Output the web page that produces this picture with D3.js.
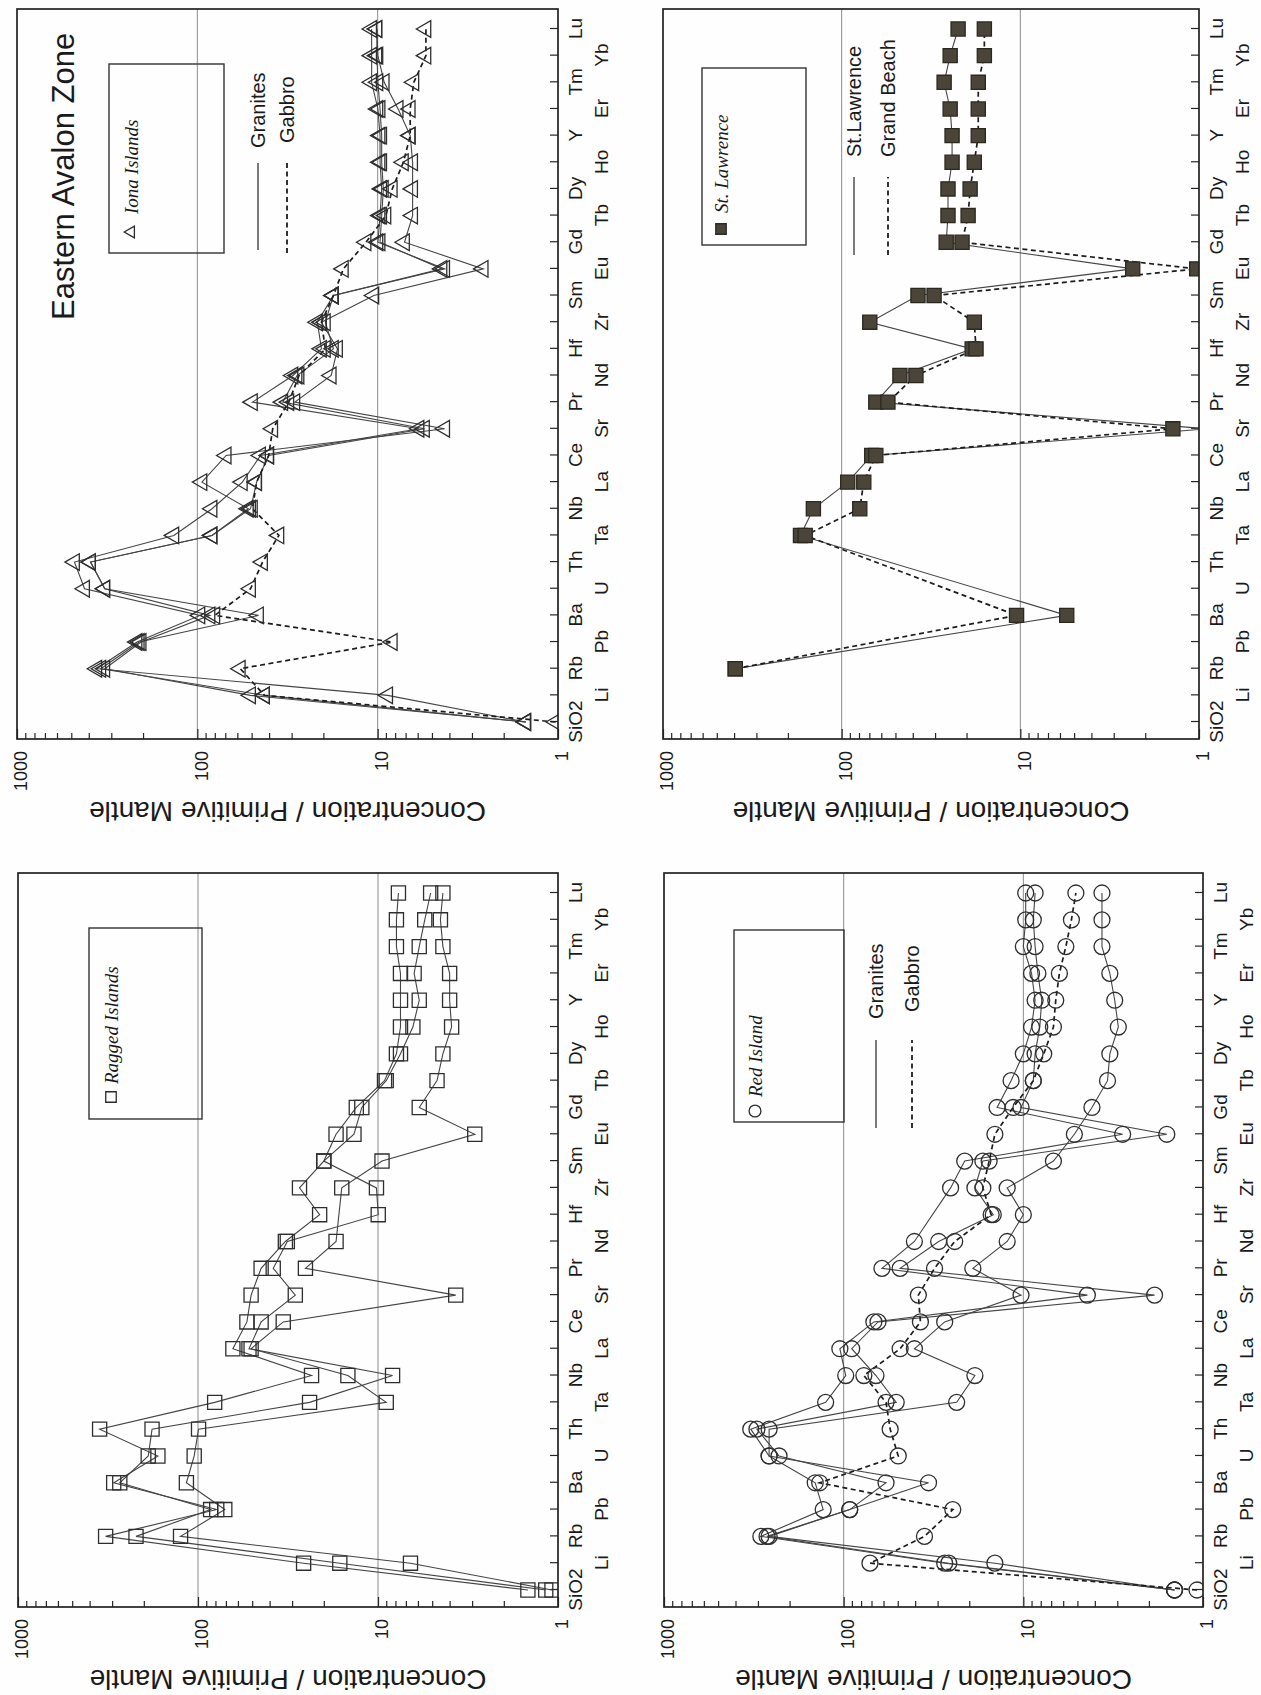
<!DOCTYPE html>
<html><head><meta charset="utf-8">
<script src="https://cdn.jsdelivr.net/npm/d3@7"></script>
<style>
html,body{margin:0;padding:0;background:#fff;}
svg{display:block;background:#fefefe;}
</style></head><body>
<svg id="chart" width="1261" height="1695"></svg>
<script>
// ---------- data ----------
const elements = ["SiO2","Li","Rb","Pb","Ba","U","Th","Ta","Nb","La","Ce","Sr","Pr","Nd","Hf","Zr","Sm","Eu","Gd","Tb","Dy","Ho","Y","Er","Tm","Yb","Lu"];
const valueTicks = [1, 10, 100, 1000];
const gridValues = [10, 100];

// Iona Islands (Eastern Avalon Zone)
const ionaGranite1 = [1.51, 8.8, 361, 216, 96.8, 422, 480, 135, 82.9, 56.3, 44.6, 5.9, 49.5, 29.5, 20.5, 21.6, 17.6, 4.25, 9.97, 9.7, 9.5, 9.7, 9.7, 9.97, 10.8, 10.8, 10.8];
const ionaGranite2 = [1.51, 50.7, 326, 205, 85.1, 326, 391, 82.9, 52.1, 94.3, 69.2, 4.25, 28.8, 18.1, 16.7, 20.5, 10.5, 2.6, 7.1, 6.4, 6.4, 6.4, 6.6, 7.7, 9.2, 9.97, 10.1];
const ionaGranite3 = [1.51, 42.4, 343, 210, 45.8, 326, 391, 82.9, 50.7, 46.9, 40.2, 5.5, 33.6, 28.0, 17.6, 19.5, 17.6, 4.4, 9.7, 9.5, 9.3, 9.5, 9.5, 9.7, 9.97, 10.1, 10.1];
const ionaGabbro   = [1.03, 42.4, 57.8, 8.3, 80, 50.7, 43.5, 35.3, 49.5, 46.9, 40.2, 38.2, 31.1, 27.3, 19.5, 20.5, 17.6, 15.5, 11.6, 9.0, 8.3, 7.2, 6.6, 6.6, 6.3, 5.4, 5.4];

// St. Lawrence
const stLawrence = [null, null, 394, null, 5.5, null, null, 170, 144, 92.5, 67.9, 0.9, 64.4, 47.2, 18.6, 69.6, 37.4, 2.35, 26.0, 25.4, 25.4, 24.1, 24.1, 24.7, 26.7, 24.7, 22.3];
const grandBeach = [null, null, 394, null, 10.5, null, null, 160, 79.2, 75.2, 64.4, 1.4, 55.1, 38.4, 17.7, 18.1, 30.4, 1.03, 21.2, 19.6, 19.1, 18.1, 17.2, 17.2, 17.2, 15.9, 15.9];

// Ragged Islands
const raggedA = [1.47, 25.9, 326, 78.7, 294, 167, 352, 80.8, 23.4, 64.0, 53.5, 50.7, 44.6, 32.7, 21.1, 27.3, 20.0, 17.1, 13.2, 9.2, 7.9, 7.5, 7.5, 7.5, 7.9, 7.9, 7.7];
const raggedB = [1.17, 16.3, 221, 85.1, 272, 189, 180, 24.0, 8.3, 52.1, 44.6, 28.8, 38.2, 31.9, 9.97, 10.2, 20.0, 13.6, 12.3, 9.0, 7.5, 6.4, 5.9, 6.3, 5.9, 5.5, 5.1];
const raggedC = [1.08, 6.6, 125, 71.0, 116, 105, 99.3, 9.0, 14.7, 50.7, 33.6, 3.7, 25.3, 17.1, null, 15.9, 9.5, 2.9, 5.9, 4.7, 4.36, 3.9, 4.0, 4.0, 4.36, 4.5, 4.36];

// Red Island
const redGranite1 = [1.44, 27.4, 289, 130, 144, 260, 329, 126, 97.4, 105, 67.9, 4.4, 61.2, 40.4, null, 25.4, 21.2, 2.8, 14.0, 11.7, 10.0, 9.0, 8.6, 9.0, 10.0, 9.7, 9.7];
const redGranite2 = [1.44, 26.0, 267, 92.5, 58.1, 229, 304, 51.0, 66.1, 90.2, 64.4, 1.86, 48.5, 29.6, 14.7, 18.6, 16.8, 1.59, 10.3, 8.8, 8.6, 8.1, 7.9, 8.3, 8.6, 8.8, 8.6];
const redGranite3 = [1.44, 14.4, 260, 92.5, 33.7, 260, 260, 23.5, 18.6, 40.4, 27.4, 10.3, 19.1, 12.3, 10.0, 12.3, 6.8, 5.2, 4.15, 3.4, 3.3, 2.96, 3.1, 3.3, 3.65, 3.65, 3.65];
const redGabbro   = [1.08, 71.4, 35.5, 24.7, 136, 49.7, 55.1, 58.1, 77.2, 48.5, 37.4, 38.4, 31.2, 24.1, 15.1, 16.8, 15.5, 14.4, 11.4, 8.8, 7.7, 6.8, 6.6, 6.3, 5.8, 5.4, 5.1];

const axisTitle = "Concentration / Primitive Mantle";

// ---------- drawing ----------
const SANS = "'Liberation Sans', Arial, Helvetica, sans-serif";
const SERIF = "'Liberation Serif', 'Times New Roman', serif";
const INK = "#262626";

const svg = d3.select("#chart");
// The page is printed sideways: draw the upright figure, then turn it 90° counter-clockwise.
const root = svg.append("g").attr("transform", "translate(0,1695) rotate(-90)");

const symbolOf = {
  triangle: d3.symbolTriangle,
  square: d3.symbolSquare,
  circle: d3.symbolCircle
};

const panels = [
  { id: "iona", u0: 956, u1: 1686, v0: 17, v1: 558, marker: "triangle", filled: false, msize: 120,
    series: [
      { values: ionaGranite1, dashed: false },
      { values: ionaGranite2, dashed: false },
      { values: ionaGranite3, dashed: false },
      { values: ionaGabbro, dashed: true }
    ],
    title: "Eastern Avalon Zone",
    box: { v0: 109, v1: 224, u0: 1442, u1: 1631, label: "Iona Islands", mu: 1463, mv: 131, tu: 1481 },
    lines: [
      { label: "Granites", dashed: false, v: 258, la: 1445, lb: 1532, tu: 1547 },
      { label: "Gabbro", dashed: true, v: 287, la: 1442, lb: 1535, tu: 1552 }
    ]
  },
  { id: "stl", u0: 956, u1: 1686, v0: 663, v1: 1199, marker: "square", filled: true, msize: 200,
    series: [
      { values: stLawrence, dashed: false },
      { values: grandBeach, dashed: true }
    ],
    box: { v0: 702, v1: 806, u0: 1450, u1: 1627, label: "St. Lawrence", mu: 1466, mv: 721, tu: 1482 },
    lines: [
      { label: "St.Lawrence", dashed: false, v: 854, la: 1440, lb: 1518, tu: 1538 },
      { label: "Grand Beach", dashed: true, v: 888, la: 1440, lb: 1518, tu: 1538 }
    ]
  },
  { id: "ragged", u0: 88, u1: 822, v0: 18, v1: 558, marker: "square", filled: false, msize: 200,
    series: [
      { values: raggedA, dashed: false },
      { values: raggedB, dashed: false },
      { values: raggedC, dashed: false }
    ],
    box: { v0: 89, v1: 202, u0: 576, u1: 767, label: "Ragged Islands", mu: 598, mv: 111, tu: 611 },
    lines: []
  },
  { id: "red", u0: 88, u1: 822, v0: 664, v1: 1203, marker: "circle", filled: false, msize: 200,
    series: [
      { values: redGranite1, dashed: false },
      { values: redGranite2, dashed: false },
      { values: redGranite3, dashed: false },
      { values: redGabbro, dashed: true }
    ],
    box: { v0: 734, v1: 844, u0: 573, u1: 765, label: "Red Island", mu: 584, mv: 755, tu: 598 },
    lines: [
      { label: "Granites", dashed: false, v: 876, la: 567, lb: 655, tu: 676 },
      { label: "Gabbro", dashed: true, v: 912, la: 567, lb: 655, tu: 683 }
    ]
  }
];

const minorTicks = [];
[1, 10, 100].forEach(d => { for (let k = 2; k <= 9; k++) minorTicks.push(d * k); });

function styleAxis(sel, size) {
  sel.select(".domain").remove();
  sel.selectAll("line").attr("stroke", INK).attr("stroke-width", 1.2);
  sel.attr("font-family", SANS).attr("font-size", size || 19);
  sel.selectAll("text").attr("fill", "#1a1a1a");
}

panels.forEach(p => {
  const g = root.append("g").attr("class", "panel-" + p.id);
  const x = d3.scalePoint().domain(elements).range([p.u0 + 17, p.u1 - 20]);
  const y = d3.scaleLog().domain([1, 1000]).range([p.v1, p.v0]);

  // grid lines
  g.selectAll("line.grid").data(gridValues).join("line")
    .attr("class", "grid")
    .attr("x1", p.u0).attr("x2", p.u1)
    .attr("y1", d => y(d)).attr("y2", d => y(d))
    .attr("stroke", "#8c8c8c").attr("stroke-width", 1);

  // value axis: minor and major ticks pointing inwards, labels outside
  g.append("g").attr("transform", `translate(${p.u0},0)`)
    .call(d3.axisRight(y).tickValues(minorTicks).tickSize(6).tickFormat(""))
    .call(s => styleAxis(s));
  g.append("g").attr("transform", `translate(${p.u0},0)`)
    .call(d3.axisRight(y).tickValues(valueTicks).tickSize(10).tickFormat(""))
    .call(s => styleAxis(s));
  g.append("g").attr("transform", `translate(${p.u0},0)`)
    .call(d3.axisLeft(y).tickValues(valueTicks).tickSize(0).tickPadding(12).tickFormat(d3.format("d")))
    .call(s => styleAxis(s, 18))
    .selectAll("text").attr("dy", "0.55em");

  // element axis: ticks inwards, staggered labels
  g.append("g").attr("transform", `translate(0,${p.v1})`)
    .call(d3.axisTop(x).tickSize(8).tickFormat(""))
    .call(s => styleAxis(s));
  g.append("g").attr("transform", `translate(0,${p.v1})`)
    .call(d3.axisBottom(x).tickValues(elements.filter((d, i) => i % 2 === 0)).tickSize(0).tickPadding(11))
    .call(s => styleAxis(s, 19));
  g.append("g").attr("transform", `translate(0,${p.v1})`)
    .call(d3.axisBottom(x).tickValues(elements.filter((d, i) => i % 2 === 1)).tickSize(0).tickPadding(37))
    .call(s => styleAxis(s, 19));

  // axis title
  const tu = p.u0 - 72, tv = (p.v0 + p.v1) / 2;
  g.append("text")
    .attr("transform", `translate(${tu},${tv}) rotate(-90)`)
    .attr("text-anchor", "middle").attr("dominant-baseline", "central")
    .attr("font-family", SANS).attr("font-size", 28).attr("fill", "#1a1a1a")
    .text(axisTitle);

  // clip for data
  const clipId = "clip-" + p.id;
  g.append("clipPath").attr("id", clipId)
    .append("rect").attr("x", p.u0).attr("y", p.v0).attr("width", p.u1 - p.u0).attr("height", p.v1 - p.v0);
  const dg = g.append("g").attr("clip-path", `url(#${clipId})`);

  const line = d3.line().x(d => x(d.el)).y(d => y(d.v));
  const sym = d3.symbol().type(symbolOf[p.marker]).size(p.msize);

  p.series.forEach(s => {
    const pts = elements.map((el, i) => ({ el, v: s.values[i] })).filter(d => d.v != null);
    dg.append("path").datum(pts)
      .attr("d", line)
      .attr("fill", "none")
      .attr("stroke", s.dashed ? "#1c1c1c" : "#444")
      .attr("stroke-width", s.dashed ? 1.7 : 1.1)
      .attr("stroke-dasharray", s.dashed ? "5,3.5" : null);
  });
  p.series.forEach(s => {
    const pts = elements.map((el, i) => ({ el, v: s.values[i] })).filter(d => d.v != null);
    dg.selectAll(null).data(pts).join("path")
      .attr("transform", d => `translate(${x(d.el)},${y(d.v)})`)
      .attr("d", sym)
      .attr("fill", p.filled ? "#4a4538" : "none")
      .attr("stroke", p.filled ? "#2b2820" : "#2e2e2e")
      .attr("stroke-width", 1.3);
  });

  // frame
  g.append("rect")
    .attr("x", p.u0).attr("y", p.v0).attr("width", p.u1 - p.u0).attr("height", p.v1 - p.v0)
    .attr("fill", "none").attr("stroke", "#222").attr("stroke-width", 1.7);

  // panel title
  if (p.title) {
    g.append("text")
      .attr("x", 1375).attr("y", 74)
      .attr("font-family", SANS).attr("font-size", 31).attr("fill", "#1a1a1a")
      .text(p.title);
  }

  // locality legend box
  const b = p.box;
  g.append("rect").attr("x", b.u0).attr("y", b.v0).attr("width", b.u1 - b.u0).attr("height", b.v1 - b.v0)
    .attr("fill", "none").attr("stroke", "#333").attr("stroke-width", 1.4);
  g.append("path")
    .attr("transform", `translate(${b.mu},${b.mv})`)
    .attr("d", d3.symbol().type(symbolOf[p.marker]).size(p.marker === "triangle" ? 60 : 110))
    .attr("fill", p.filled ? "#4a4538" : "none")
    .attr("stroke", "#2b2b2b").attr("stroke-width", 1.3);
  g.append("text")
    .attr("x", b.tu).attr("y", b.mv).attr("dominant-baseline", "central")
    .attr("font-family", SERIF).attr("font-style", "italic").attr("font-size", 19).attr("fill", "#1a1a1a")
    .text(b.label);

  // line-style legend
  p.lines.forEach(l => {
    g.append("line").attr("x1", l.la).attr("x2", l.lb).attr("y1", l.v).attr("y2", l.v)
      .attr("stroke", l.dashed ? "#1c1c1c" : "#333")
      .attr("stroke-width", l.dashed ? 1.8 : 1.3)
      .attr("stroke-dasharray", l.dashed ? "5,3.5" : null);
    g.append("text").attr("x", l.tu).attr("y", l.v).attr("dominant-baseline", "central")
      .attr("font-family", SANS).attr("font-size", 20).attr("fill", "#1a1a1a")
      .text(l.label);
  });
});
</script>
</body></html>
